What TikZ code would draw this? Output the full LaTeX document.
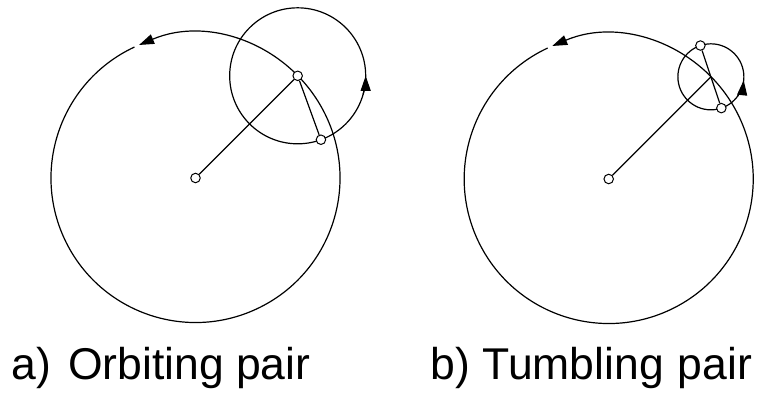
\documentclass[tikz,border=0pt]{standalone}
\usepackage{fontspec}
\setmainfont{Liberation Sans}
\usepackage{tikz}
\usetikzlibrary{arrows.meta,calc}

\begin{document}
\begin{tikzpicture}[x=1pt, y=1pt,
    orbit/.style={line width=1.2pt},
    rod/.style={line width=1.2pt},
    particle/.style={circle, draw, fill=white, line width=1pt, inner sep=0pt, minimum size=9.5pt},
    spin/.style={line width=1.2pt, -{Triangle[length=15pt, width=10pt]}},
    caption/.style={anchor=base west, inner sep=0pt, font=\fontsize{44.5}{50}\selectfont}
]
    \useasboundingbox (0,0) rectangle (767,397);

    % Orbiting pair
    \coordinate (ca) at (195.5,219);
    \draw[orbit, spin] (ca) ++(-245:144.5) arc[start angle=-245, end angle=113, radius=144.5];
    \coordinate (sa) at ($(ca)+(45:144.5)$);
    \draw[orbit] (sa) circle (68);
    \draw[spin] (sa) ++(-16:68) arc[start angle=-16, end angle=0, radius=68];
    \node[particle] (oa) at (ca) {};
    \node[particle] (pa1) at (sa) {};
    \node[particle] (pa2) at ($(sa)+(-70:68)$) {};
    \draw[rod] (oa) -- (pa1);
    \draw[rod] (pa1) -- (pa2);

    % Tumbling pair
    \coordinate (cb) at (608.7,218);
    \draw[orbit, spin] (cb) ++(-245:144.5) arc[start angle=-245, end angle=113, radius=144.5];
    \coordinate (sb) at ($(cb)+(45:144.5)$);
    \draw[orbit] (sb) circle (33);
    \draw[spin] (sb) ++(-36:33) arc[start angle=-36, end angle=-6, radius=33];
    \node[particle] (ob) at (cb) {};
    \node[particle] (pb1) at ($(sb)+(108.5:33)$) {};
    \node[particle] (pb2) at ($(sb)+(-71.5:33)$) {};
    \draw[rod] (ob) -- (sb);
    \draw[rod] (pb1) -- (pb2);

    % captions
    \node[caption] (capa) at (11.5,18) {a)\hspace{16.8pt}Orbiting pair};
    \node[caption] (capb) at (430.4,18) {b) Tumbling\hspace{14pt}pair};
\end{tikzpicture}
\end{document}
